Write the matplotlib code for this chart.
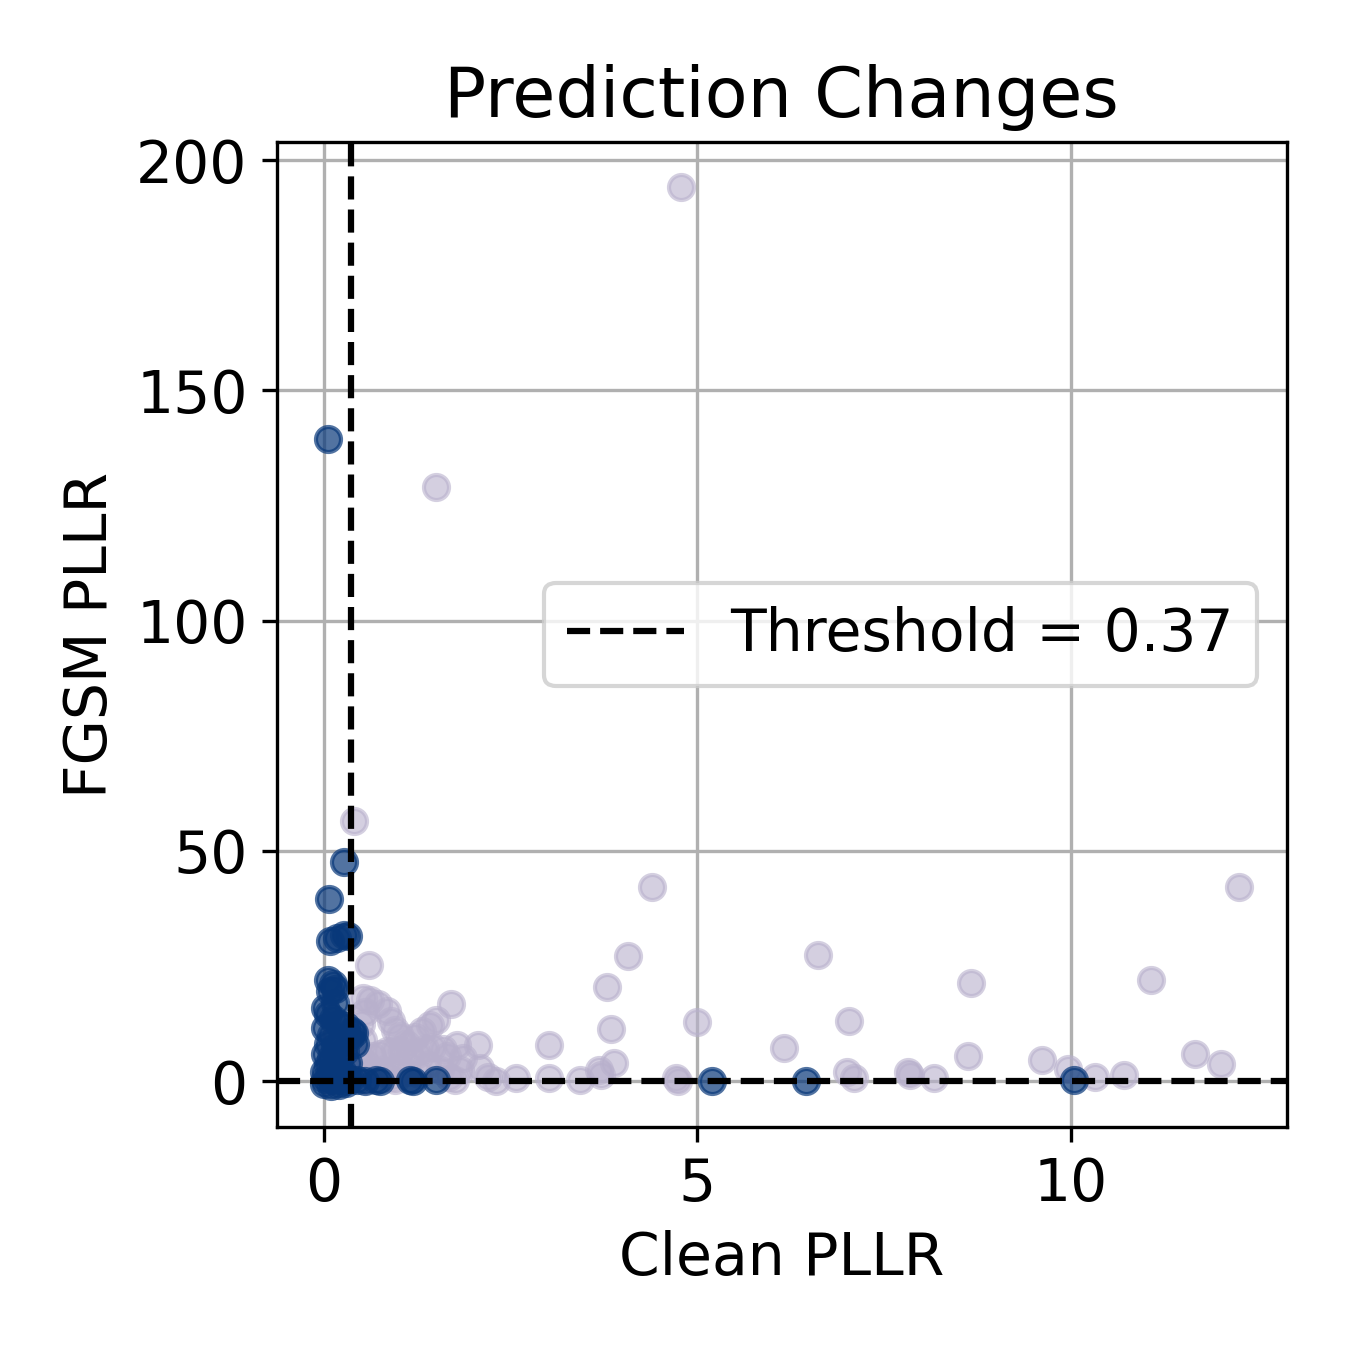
import matplotlib
matplotlib.use('Agg')
import matplotlib.pyplot as plt

# Clean vs FGSM PLLR, split by whether the prediction changed
threshold = 0.37

changed_x = [0.05, 0.27, 0.07, 0.08, 0.18, 0.27, 0.32, 0.12, 0.15, 0.08,
             0.02, 0.05, 0.12, 0.20, 0.30, 0.38, 0.35, 0.25, 0.10, 0.02,
             0.05, 0.15, 0.28, 0.02, 0.10, 0.20, 0.32, 0.05, 0.12, 0.25,
             0.00, 0.08, 0.18, 0.30, 0.02, 0.12, 0.22, 0.35, 0.45, 0.55,
             0.70, 0.75, 1.15, 1.20, 1.50, 5.20, 6.45, 10.05, 0.40, 0.42,
             0.00, 0.10, 0.20, 0.30, 0.15, 0.05]
changed_y = [139.5, 47.5, 39.5, 30.5, 31.0, 31.8, 31.5, 21.0, 20.0, 19.5,
             16.0, 14.5, 13.5, 12.5, 12.0, 11.0, 9.5, 9.0, 10.0, 11.5,
             8.0, 7.5, 6.5, 6.0, 5.0, 4.5, 4.0, 3.5, 2.8, 2.2,
             2.0, 1.2, 1.0, 0.8, 0.5, 0.3, 0.2, 0.4, 0.2, 0.1,
             0.2, 0.1, 0.2, 0.1, 0.2, 0.1, 0.1, 0.2, 10.5, 8.0,
             -0.5, -1.0, -0.8, -0.3, 17.0, 22.0]

kept_x = [4.78, 1.50, 0.41, 4.40, 12.26, 4.07, 6.61, 0.60, 3.79, 8.67,
          11.07, 3.84, 4.99, 7.03, 3.01, 6.16, 8.63, 9.61, 11.66, 12.01,
          3.88, 3.69, 3.71, 2.57, 3.01, 3.43, 4.71, 4.74, 7.00, 7.10,
          7.82, 7.85, 8.17, 9.97, 10.32, 10.71,
          0.52, 0.62, 0.72, 0.84, 0.90, 0.95, 1.02,
          1.10, 1.22, 1.32, 1.42, 1.50, 1.70,
          0.48, 0.55, 0.65, 0.75, 0.85, 0.95, 1.05, 1.15, 1.25, 1.35,
          1.45, 1.60, 1.65, 1.79, 1.86, 2.07,
          0.50, 0.62, 0.78, 0.90, 1.00, 1.12, 1.28, 1.38, 1.55, 1.68,
          1.82, 2.09, 2.20, 2.30, 1.75, 0.55, 0.95, 0.52, 0.50, 0.55]
kept_y = [194.1, 129.0, 56.5, 42.1, 42.1, 27.1, 27.4, 25.2, 20.4, 21.3,
          21.9, 11.3, 12.8, 13.0, 7.8, 7.2, 5.4, 4.6, 5.9, 3.7,
          3.9, 2.4, 1.3, 0.7, 0.7, 0.2, 0.6, 0.0, 2.0, 0.7,
          1.9, 1.3, 0.7, 2.6, 0.9, 1.3,
          18.0, 17.6, 16.8, 15.2, 13.0, 11.2, 9.8,
          8.0, 9.5, 11.0, 12.2, 13.2, 16.7,
          5.0, 4.0, 5.5, 6.0, 6.5, 6.8, 6.5, 5.5, 6.0, 7.0,
          7.5, 7.0, 5.5, 7.8, 5.0, 7.8,
          2.0, 1.5, 2.5, 1.0, 3.0, 2.0, 1.5, 3.5, 2.5, 1.0,
          2.5, 2.8, 0.9, 0.1, 0.2, 0.3, 0.2, 9.0, 12.5, 15.0]

fig, ax = plt.subplots(figsize=(4.5, 4.5), dpi=300)
fig.subplots_adjust(left=0.205, right=0.953, bottom=0.165, top=0.895)

ax.scatter(kept_x, kept_y, color='#b8b0cc', alpha=0.6, s=36, zorder=2)
ax.scatter(changed_x, changed_y, color='#08387a', alpha=0.7, s=36, zorder=3)

ax.axvline(threshold, color='black', linestyle='--', linewidth=1.5,
           label=f'Threshold = {threshold}', zorder=4)
ax.axhline(0, color='black', linestyle='--', linewidth=1.5, zorder=4)

ax.set_xlim(-0.63, 12.89)
ax.set_ylim(-10, 204)
ax.set_xticks([0, 5, 10])
ax.set_yticks([0, 50, 100, 150, 200])
ax.grid(True)

ax.set_title('Prediction Changes', fontsize=16.8)
ax.set_xlabel('Clean PLLR', fontsize=14)
ax.set_ylabel('FGSM PLLR', fontsize=14)
ax.tick_params(labelsize=14)
ax.legend(loc='center right', fontsize=14)

plt.savefig('out.png', dpi=300)
